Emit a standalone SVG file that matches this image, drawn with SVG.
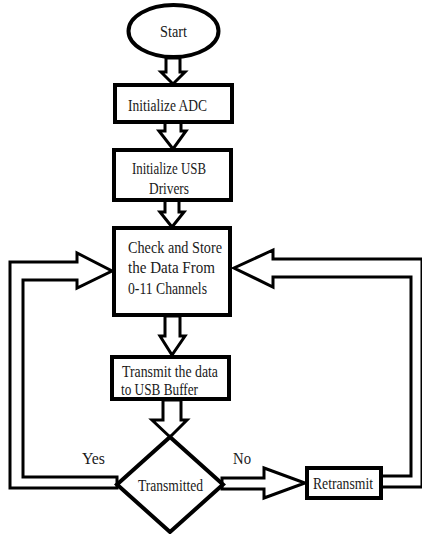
<svg xmlns="http://www.w3.org/2000/svg" width="422" height="534" viewBox="0 0 422 534">
<style>
.shape{fill:#fff;stroke:#000;stroke-width:4;}
.arr{fill:#fff;stroke:#000;stroke-width:3;stroke-linejoin:miter;}
text{font-family:"Liberation Serif","Times New Roman",serif;font-size:16.5px;fill:#1a1a1a;}
.c{text-anchor:middle;}
</style>
<rect width="422" height="534" fill="#fff"/>
<g id="connectors">
<polygon class="arr" points="166,58 166,72 161,72 173,84 185,72 180,72 180,58"/>
<polygon class="arr" points="165,122 165,131 159,131 173,149 186,131 181,131 181,122"/>
<polygon class="arr" points="165,200 165,212 160,212 172,227 184,212 179,212 179,200"/>
<polygon class="arr" points="165,316 165,336 160,336 172,355 185,336 180,336 180,316"/>
<polygon class="arr" points="163,400 163,420 152,420 170,437 187,420 181,420 181,400"/>
<polygon class="arr" points="117,488 10,488 10,262 77,262 77,253 112,271 77,288 77,280 23,280 23,477 117,477"/>
<polygon class="arr" points="381,487 422,487 422,259 273,259 273,250 234,268 273,287 273,277 411,277 411,476 381,476"/>
<polygon class="arr" points="222,478 264,478 264,468 305,483 264,498 264,489 222,489"/>
</g>
<g id="start">
<ellipse class="shape" cx="173.5" cy="31" rx="45" ry="26" stroke-width="3"/>
<text x="160" y="37" textLength="27" lengthAdjust="spacingAndGlyphs">Start</text>
</g>
<g id="init-adc">
<rect class="shape" x="115" y="85" width="117" height="37"/>
<text x="128" y="111" textLength="79" lengthAdjust="spacingAndGlyphs">Initialize ADC</text>
</g>
<g id="init-usb">
<rect class="shape" x="114" y="150" width="117" height="50"/>
<text x="132" y="174" textLength="74" lengthAdjust="spacingAndGlyphs">Initialize USB</text>
<text x="149" y="194" textLength="40" lengthAdjust="spacingAndGlyphs">Drivers</text>
</g>
<g id="check-store">
<rect class="shape" x="114" y="228" width="116" height="87"/>
<text x="128" y="253" textLength="94" lengthAdjust="spacingAndGlyphs">Check and Store</text>
<text x="128" y="273" textLength="87" lengthAdjust="spacingAndGlyphs">the Data From</text>
<text x="128" y="294" textLength="79" lengthAdjust="spacingAndGlyphs">0-11 Channels</text>
</g>
<g id="transmit-data">
<rect class="shape" x="112" y="357" width="117" height="42"/>
<text x="122" y="377" textLength="96" lengthAdjust="spacingAndGlyphs">Transmit the data</text>
<text x="121" y="395" textLength="77" lengthAdjust="spacingAndGlyphs">to USB Buffer</text>
</g>
<g id="transmitted">
<polygon class="shape" points="170,437 223,484.5 170,532 117,484.5"/>
<text x="138" y="491" textLength="65" lengthAdjust="spacingAndGlyphs">Transmitted</text>
</g>
<g id="retransmit">
<rect class="shape" x="307" y="468" width="74" height="30"/>
<text x="313" y="489" textLength="60" lengthAdjust="spacingAndGlyphs">Retransmit</text>
</g>
<g id="labels">
<text x="82" y="464" textLength="23" lengthAdjust="spacingAndGlyphs">Yes</text>
<text x="233" y="464" textLength="18" lengthAdjust="spacingAndGlyphs">No</text>
</g>
</svg>
